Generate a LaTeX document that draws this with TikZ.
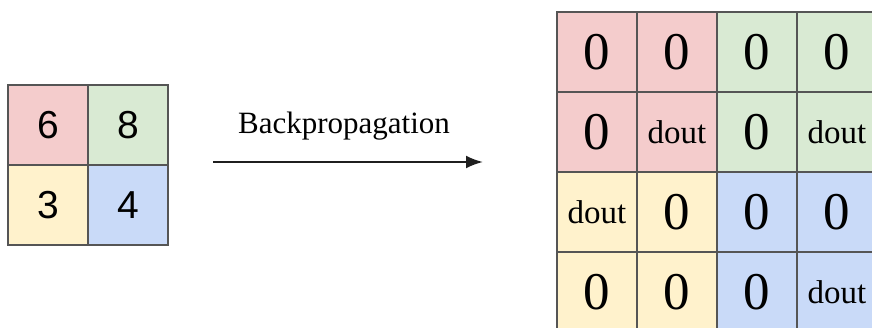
\documentclass[tikz,border=0pt]{standalone}
\usepackage{fontspec}
\setmainfont{Liberation Serif}
\newfontfamily\digitfont{Liberation Sans}
\usetikzlibrary{arrows.meta}
\definecolor{cellred}{HTML}{F4CCCC}
\definecolor{cellgreen}{HTML}{D9EAD3}
\definecolor{cellyellow}{HTML}{FFF2CC}
\definecolor{cellblue}{HTML}{C9DAF8}
\definecolor{gridline}{HTML}{555555}
\tikzset{
  cell/.style={draw=gridline, line width=1.5pt, minimum size=80pt, inner sep=0pt, anchor=center},
  small/.style={cell, font=\digitfont\fontsize{39}{39}\selectfont},
  zero/.style={cell, font=\fontsize{53}{53}\selectfont},
  dout/.style={cell, font=\fontsize{33}{33}\selectfont},
  flow/.style={line width=2.2pt, draw=black!88, -{Latex[length=17pt,width=13pt]}},
}
\begin{document}
\begin{tikzpicture}[x=1pt,y=-1pt]
\useasboundingbox (0,0) rectangle (872,328);
\clip (0,0) rectangle (872,328);

% pooled 2x2 input
\node[small, fill=cellred]    (a11) at (48,125)  {6};
\node[small, fill=cellgreen]  (a12) at (128,125) {8};
\node[small, fill=cellyellow] (a21) at (48,205)  {3};
\node[small, fill=cellblue]   (a22) at (128,205) {4};

% label and arrow
\node[font=\fontsize{31}{31}\selectfont] (lbl) at (344,126) {Backpropagation};
\coordinate (arrowFrom) at (213,162);
\coordinate (arrowTo) at (483,162);
\draw[flow] (arrowFrom) -- (arrowTo);

% upsampled 4x4 gradient
\node[zero, fill=cellred]    (b11) at (597,52)  {0};
\node[zero, fill=cellred]    (b12) at (677,52)  {0};
\node[zero, fill=cellgreen]  (b13) at (757,52)  {0};
\node[zero, fill=cellgreen]  (b14) at (837,52)  {0};

\node[zero, fill=cellred]    (b21) at (597,132) {0};
\node[dout, fill=cellred]    (b22) at (677,132) {dout};
\node[zero, fill=cellgreen]  (b23) at (757,132) {0};
\node[dout, fill=cellgreen]  (b24) at (837,132) {dout};

\node[dout, fill=cellyellow] (b31) at (597,212) {dout};
\node[zero, fill=cellyellow] (b32) at (677,212) {0};
\node[zero, fill=cellblue]   (b33) at (757,212) {0};
\node[zero, fill=cellblue]   (b34) at (837,212) {0};

\node[zero, fill=cellyellow] (b41) at (597,292) {0};
\node[zero, fill=cellyellow] (b42) at (677,292) {0};
\node[zero, fill=cellblue]   (b43) at (757,292) {0};
\node[dout, fill=cellblue]   (b44) at (837,292) {dout};
\end{tikzpicture}
\end{document}
